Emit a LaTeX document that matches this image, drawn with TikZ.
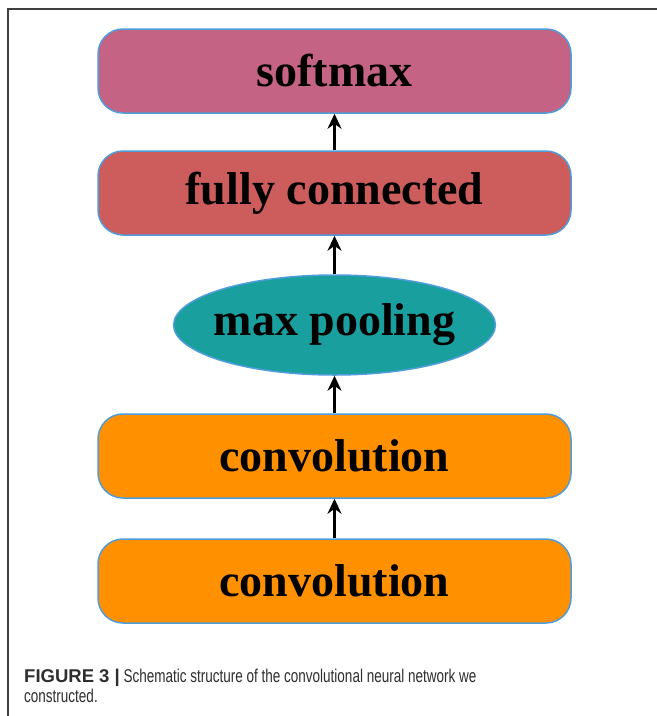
\documentclass[tikz,border=0pt]{standalone}
\usepackage{fontspec}
\usepackage{tikz}
\usetikzlibrary{arrows.meta,shapes.geometric}
\newfontfamily\layerfont{Liberation Serif}
\newfontfamily\capbold{Liberation Sans}
\newfontfamily\capfont[FakeStretch=0.73]{Liberation Sans}
\definecolor{edgeblue}{HTML}{4F9DDA}
\definecolor{softpink}{HTML}{C56384}
\definecolor{fcred}{HTML}{CD5C5C}
\definecolor{poolteal}{HTML}{1A9F9F}
\definecolor{convorange}{HTML}{FF9100}
\tikzset{
  layer/.style={draw=edgeblue,line width=1.5pt,rounded corners=25pt,
    minimum width=473pt,minimum height=84pt,inner sep=0pt,
    font=\layerfont\bfseries\fontsize{46}{46}\selectfont},
  flow/.style={->,line width=2.8pt},
  >={Stealth[length=15pt,width=14pt]}
}
\begin{document}
\begin{tikzpicture}[x=1pt,y=-1pt]
  \useasboundingbox (0,0) rectangle (657,716);
  \draw [line width=1.2pt,black!75] (8,716) -- (8,9) -- (657,9);
  \node[layer,fill=softpink] (softmax) at (334.5,71) {softmax};
  \node[layer,fill=fcred] (fc) at (334.5,193) {fully connected};
  \node[ellipse,draw=edgeblue,line width=1.5pt,fill=poolteal,
    minimum width=321pt,minimum height=100pt,inner xsep=-7pt,inner ysep=0pt,
    font=\layerfont\bfseries\fontsize{46}{46}\selectfont] (pool) at (334.5,325) {max pooling};
  \node[layer,fill=convorange] (convb) at (334.5,456) {convolution};
  \node[layer,fill=convorange] (conva) at (334.5,581) {convolution};
  \draw [flow] (conva) -- (convb);
  \draw [flow] (convb) -- (pool);
  \draw [flow] (pool) -- (fc);
  \draw [flow] (fc) -- (softmax);
  \node[anchor=base west,align=left,inner sep=0pt,text=black!82,
    font=\capfont\fontsize{18.5}{20.5}\selectfont] (caption) at (24,702.5)
    {{\capbold\bfseries FIGURE 3 |} Schematic structure of the convolutional neural network we\\constructed.};
\end{tikzpicture}
\end{document}
